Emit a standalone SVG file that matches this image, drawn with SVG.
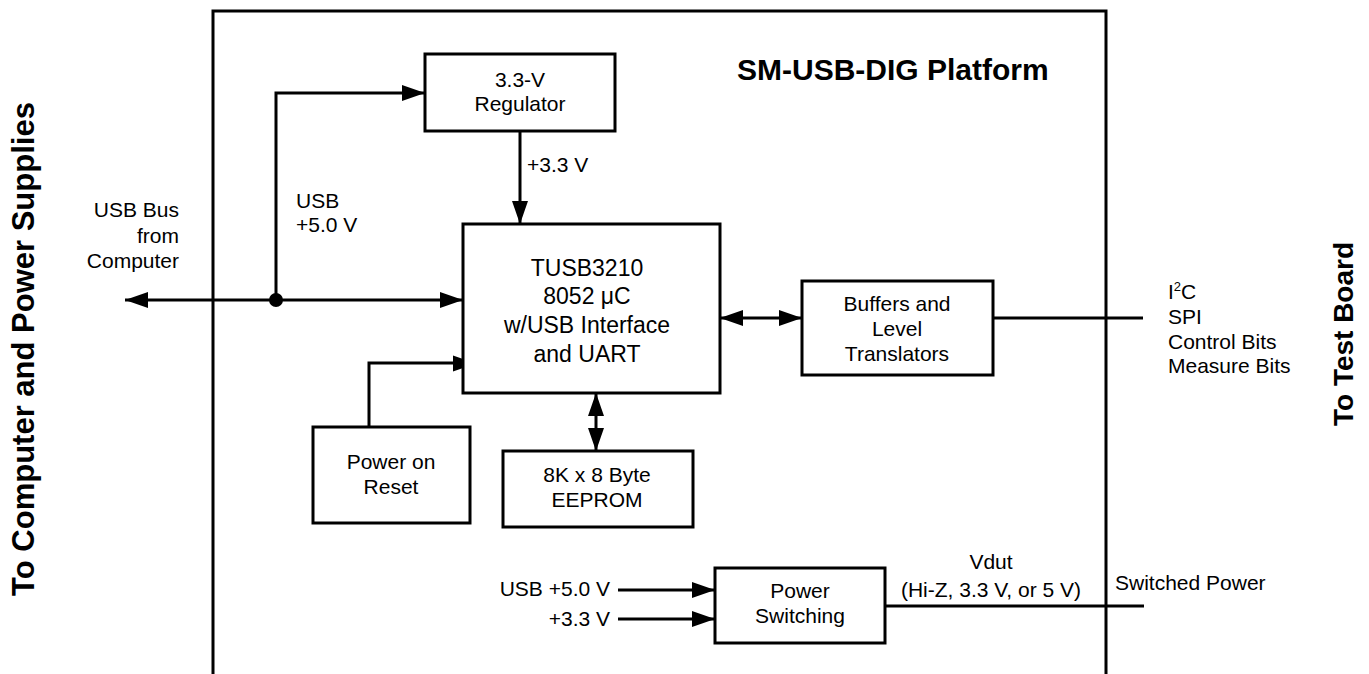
<svg xmlns="http://www.w3.org/2000/svg" width="1369" height="674" viewBox="0 0 1369 674">
<style>
.box{fill:#fff;stroke:#000;stroke-width:3}
.ln{fill:none;stroke:#000;stroke-width:3}
.t{font-family:"Liberation Sans",Arial,sans-serif;font-size:21px;fill:#000}
.m{text-anchor:middle}
.e{text-anchor:end}
.big{font-size:23px}
.b{font-family:"Liberation Sans",Arial,sans-serif;font-weight:bold;fill:#000}
.ah{fill:#000;stroke:none}
</style>
<defs>
<marker id="arr" viewBox="0 0 23 16" refX="23" refY="8" markerWidth="23" markerHeight="16" markerUnits="userSpaceOnUse" orient="auto-start-reverse">
<path d="M0,0 L23,8 L0,16 Z" fill="#000"/>
</marker>
</defs>
<rect width="1369" height="674" fill="#fff"/>
<g id="frame">
<path class="ln" d="M213,674 V11 H1106 V674"/>
<text class="b" x="737" y="80" font-size="30">SM-USB-DIG Platform</text>
</g>
<g id="side-labels">
<text class="b m" font-size="31" transform="translate(34,349) rotate(-90)">To Computer and Power Supplies</text>
<text class="b m" font-size="28" transform="translate(1353,334) rotate(-90)">To Test Board</text>
</g>
<g id="connectors">
<line class="ln" x1="125" y1="300" x2="463" y2="300" marker-start="url(#arr)" marker-end="url(#arr)"/>
<path class="ln" d="M276,300 V93 H425" marker-end="url(#arr)"/>
<circle cx="276" cy="300" r="7" fill="#000"/>
<line class="ln" x1="520" y1="131" x2="520" y2="224" marker-end="url(#arr)"/>
<path class="ln" d="M369,427 V363 H455"/>
<polygon class="ah" points="453,355.5 463,359 463,368 453,371.5"/>
<line class="ln" x1="720" y1="318" x2="802" y2="318" marker-start="url(#arr)" marker-end="url(#arr)"/>
<line class="ln" x1="596" y1="393" x2="596" y2="451" marker-start="url(#arr)" marker-end="url(#arr)"/>
<line class="ln" x1="993" y1="318" x2="1143" y2="318"/>
<line class="ln" x1="618" y1="590" x2="715" y2="590" marker-end="url(#arr)"/>
<line class="ln" x1="618" y1="619" x2="715" y2="619" marker-end="url(#arr)"/>
<line class="ln" x1="885" y1="606" x2="1144" y2="606"/>
</g>
<g id="connector-labels">
<text class="t e" x="179" y="217">USB Bus</text>
<text class="t e" x="179" y="243">from</text>
<text class="t e" x="179" y="268">Computer</text>
<text class="t" x="296" y="208">USB</text>
<text class="t" x="296" y="232">+5.0 V</text>
<text class="t" x="527" y="172">+3.3 V</text>
<text class="t" x="1168" y="299">I<tspan font-size="13" dy="-8">2</tspan><tspan dy="8">C</tspan></text>
<text class="t" x="1168" y="324">SPI</text>
<text class="t" x="1168" y="349">Control Bits</text>
<text class="t" x="1168" y="373">Measure Bits</text>
<text class="t e" x="610" y="596">USB +5.0 V</text>
<text class="t e" x="610" y="626">+3.3 V</text>
<text class="t m" x="991" y="569">Vdut</text>
<text class="t m" x="991" y="597">(Hi-Z, 3.3 V, or 5 V)</text>
<text class="t" x="1115" y="590">Switched Power</text>
</g>
<g id="regulator">
<rect class="box" x="425" y="54" width="190" height="77"/>
<text class="t m" x="520" y="87">3.3-V</text>
<text class="t m" x="520" y="111">Regulator</text>
</g>
<g id="tusb3210">
<rect class="box" x="463" y="224" width="257" height="169"/>
<text class="t m big" x="587" y="276">TUSB3210</text>
<text class="t m big" x="587" y="304">8052 μC</text>
<text class="t m big" x="587" y="333">w/USB Interface</text>
<text class="t m big" x="587" y="362">and UART</text>
</g>
<g id="buffers">
<rect class="box" x="802" y="281" width="191" height="94"/>
<text class="t m" x="897" y="311">Buffers and</text>
<text class="t m" x="897" y="336">Level</text>
<text class="t m" x="897" y="361">Translators</text>
</g>
<g id="power-on-reset">
<rect class="box" x="313" y="427" width="157" height="96"/>
<text class="t m" x="391" y="469">Power on</text>
<text class="t m" x="391" y="494">Reset</text>
</g>
<g id="eeprom">
<rect class="box" x="503" y="451" width="190" height="76"/>
<text class="t m" x="597" y="482">8K x 8 Byte</text>
<text class="t m" x="597" y="507">EEPROM</text>
</g>
<g id="power-switching">
<rect class="box" x="715" y="568" width="170" height="75"/>
<text class="t m" x="800" y="598">Power</text>
<text class="t m" x="800" y="623">Switching</text>
</g>
</svg>
